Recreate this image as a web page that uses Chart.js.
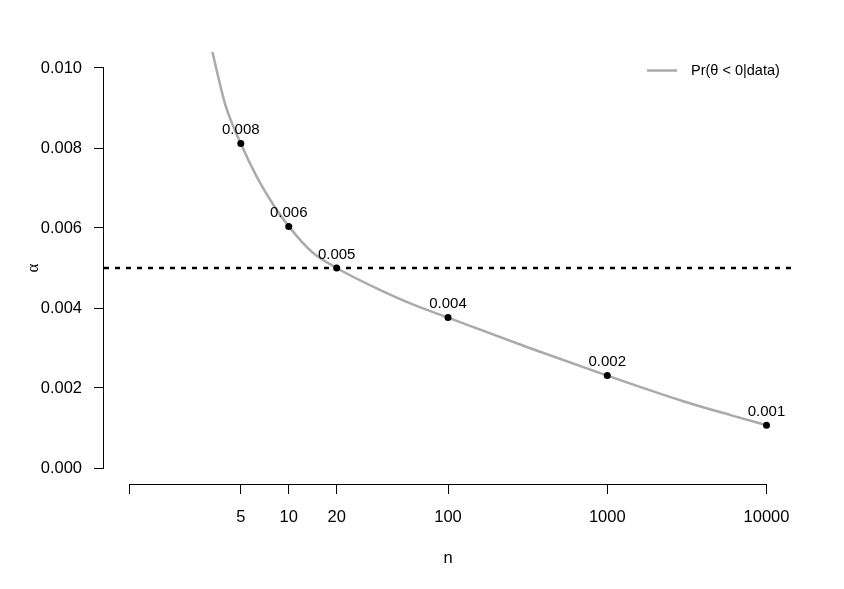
<!DOCTYPE html>
<html lang="en">
<head>
  <meta charset="UTF-8" />
  <title>alpha vs n</title>
  <script src="https://cdn.jsdelivr.net/npm/chart.js@4.4.0/dist/chart.umd.min.js"></script>
  <style>
    html, body { margin: 0; padding: 0; background: #fff; }
    #wrap { width: 844px; height: 589px; position: relative; }
  </style>
</head>
<body>
  <div id="wrap"><canvas id="chart" aria-label="alpha against n"></canvas></div>

  <script>
    /* ---- data ---- */
    var curveN     = [3, 3.5, 4, 5, 6.3, 8, 10, 14, 20, 37, 60, 100, 325, 1000, 3000, 6100, 10000];
    var curveAlpha = [0.0112, 0.0100, 0.00908, 0.00811, 0.00728, 0.00658, 0.00604, 0.00540, 0.0050,
                      0.00446, 0.00409, 0.00376, 0.00300, 0.00231, 0.00167, 0.00131, 0.00107];

    var dotN      = [5, 10, 20, 100, 1000, 10000];
    var dotAlpha  = [0.00811, 0.00604, 0.0050, 0.00376, 0.00231, 0.00107];
    var dotLabels = ["0.008", "0.006", "0.005", "0.004", "0.002", "0.001"];

    var refAlpha = 0.005;

    var xTicks      = [1, 5, 10, 20, 100, 1000, 10000];
    var xTickLabels = ["", "5", "10", "20", "100", "1000", "10000"];
    var yTicks      = [0, 0.002, 0.004, 0.006, 0.008, 0.010];

    var legendLabel = "Pr(\u03b8 < 0|data)";

    /* R-style 4% padding around the data range */
    var xMin = Math.pow(10, -0.16), xMax = Math.pow(10, 4.16);
    var yMin = -0.0004, yMax = 0.0104;

    var FONT = "'Liberation Sans', Arial, Helvetica, sans-serif";
    var GREY = "#aaaaaa";

    function pts(xs, ys) {
      return xs.map(function (x, i) { return { x: x, y: ys[i] }; });
    }

    /* axis lines only from first to last tick, like base R */
    var rAxes = {
      id: "rAxes",
      afterDraw: function (chart) {
        var c = chart.ctx, xs = chart.scales.x, ys = chart.scales.y;
        var area = chart.chartArea;
        c.save();
        c.strokeStyle = "#000";
        c.lineWidth = 1;
        var xb = Math.round(area.bottom) + 0.5;
        c.beginPath();
        c.moveTo(xs.getPixelForValue(xTicks[0]), xb);
        c.lineTo(xs.getPixelForValue(xTicks[xTicks.length - 1]), xb);
        c.stroke();
        var yl = Math.round(area.left) - 0.5;
        c.beginPath();
        c.moveTo(yl, ys.getPixelForValue(yTicks[0]));
        c.lineTo(yl, ys.getPixelForValue(yTicks[yTicks.length - 1]));
        c.stroke();
        c.restore();
      }
    };

    /* numbers above the dots */
    var dotText = {
      id: "dotText",
      afterDatasetsDraw: function (chart) {
        var c = chart.ctx;
        var meta = chart.getDatasetMeta(0);
        c.save();
        c.font = "15px " + FONT;
        c.fillStyle = "#000";
        c.textAlign = "center";
        c.textBaseline = "alphabetic";
        meta.data.forEach(function (p, i) {
          c.fillText(dotLabels[i], p.x, p.y - 9.5);
        });
        c.restore();
      }
    };

    /* legend in the top-right corner */
    var cornerLegend = {
      id: "cornerLegend",
      afterDraw: function (chart) {
        var c = chart.ctx;
        c.save();
        c.strokeStyle = GREY;
        c.lineWidth = 2.5;
        c.beginPath();
        c.moveTo(647, 70.5);
        c.lineTo(677, 70.5);
        c.stroke();
        c.font = "14.5px " + FONT;
        c.fillStyle = "#000";
        c.textAlign = "left";
        c.textBaseline = "middle";
        c.fillText(legendLabel, 691, 70.5);
        c.restore();
      }
    };

    new Chart(document.getElementById("chart"), {
      type: "line",
      data: {
        datasets: [
          {
            label: "points",
            data: pts(dotN, dotAlpha),
            showLine: false,
            pointRadius: 3.5,
            pointBackgroundColor: "#000",
            pointBorderColor: "#000",
            pointBorderWidth: 0
          },
          {
            label: "reference",
            data: pts([xMin, xMax], [refAlpha, refAlpha]),
            borderColor: "#000",
            borderWidth: 2.5,
            borderDash: [5, 6],
            pointRadius: 0,
            fill: false
          },
          {
            label: legendLabel,
            data: pts(curveN, curveAlpha),
            borderColor: GREY,
            borderWidth: 2.5,
            cubicInterpolationMode: "monotone",
            pointRadius: 0,
            fill: false
          }
        ]
      },
      options: {
        responsive: true,
        maintainAspectRatio: false,
        animation: false,
        layout: { padding: { left: 0, top: 52, right: 52, bottom: 0 } },
        plugins: {
          legend: { display: false },
          tooltip: { enabled: false }
        },
        scales: {
          x: {
            type: "logarithmic",
            min: xMin,
            max: xMax,
            afterBuildTicks: function (s) {
              s.ticks = xTicks.map(function (v) { return { value: v }; });
            },
            afterFit: function (s) { s.height = 105; },
            ticks: {
              autoSkip: false,
              maxRotation: 0,
              padding: 14,
              color: "#000",
              font: { family: FONT, size: 16.5 },
              callback: function (v, i) { return xTickLabels[i]; }
            },
            grid: {
              drawOnChartArea: false,
              drawTicks: true,
              tickLength: 10,
              color: "#000"
            },
            border: { display: false },
            title: {
              display: true,
              text: "n",
              color: "#000",
              font: { family: FONT, size: 16.5 },
              padding: { top: 0, bottom: 21 }
            }
          },
          y: {
            type: "linear",
            min: yMin,
            max: yMax,
            afterBuildTicks: function (s) {
              s.ticks = yTicks.map(function (v) { return { value: v }; });
            },
            afterFit: function (s) { s.width = 104; },
            ticks: {
              padding: 12,
              color: "#000",
              font: { family: FONT, size: 16.5 },
              callback: function (v) { return Number(v).toFixed(3); }
            },
            grid: {
              drawOnChartArea: false,
              drawTicks: true,
              tickLength: 10,
              color: "#000"
            },
            border: { display: false },
            title: {
              display: true,
              text: "\u03b1",
              color: "#000",
              font: { family: "'Liberation Serif', serif", size: 17 },
              padding: { top: 23, bottom: 0 }
            }
          }
        }
      },
      plugins: [rAxes, dotText, cornerLegend]
    });
  </script>
</body>
</html>
